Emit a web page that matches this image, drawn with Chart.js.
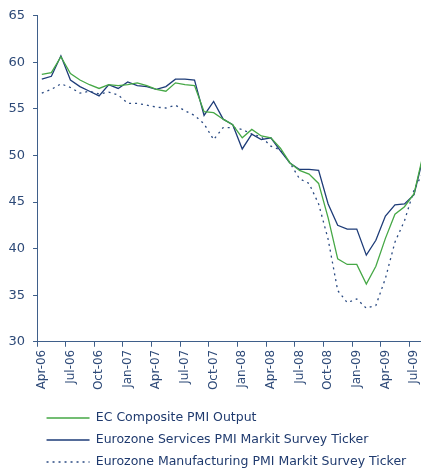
<!DOCTYPE html>
<html>
<head>
<meta charset="utf-8">
<script src="https://cdn.jsdelivr.net/npm/chart.js@4/dist/chart.umd.min.js"></script>
<style>
  html, body { margin: 0; padding: 0; background: #fff; overflow: hidden; }
  canvas { display: block; }
</style>
</head>
<body>
<canvas id="pmiChart" width="441" height="471"></canvas>
<script>
const months = [
  'Apr-06', 'May-06', 'Jun-06', 'Jul-06', 'Aug-06', 'Sep-06', 'Oct-06', 'Nov-06', 'Dec-06',
  'Jan-07', 'Feb-07', 'Mar-07', 'Apr-07', 'May-07', 'Jun-07', 'Jul-07', 'Aug-07', 'Sep-07', 'Oct-07', 'Nov-07', 'Dec-07',
  'Jan-08', 'Feb-08', 'Mar-08', 'Apr-08', 'May-08', 'Jun-08', 'Jul-08', 'Aug-08', 'Sep-08', 'Oct-08', 'Nov-08', 'Dec-08',
  'Jan-09', 'Feb-09', 'Mar-09', 'Apr-09', 'May-09', 'Jun-09', 'Jul-09', 'Aug-09'
];

const compositeOutput = [
  58.7, 58.9, 60.6, 58.8, 58.1, 57.6, 57.2, 57.6, 57.5,
  57.6, 57.8, 57.5, 57.1, 56.9, 57.8, 57.6, 57.5, 54.7, 54.6, 53.9, 53.3,
  51.9, 52.8, 52.1, 51.9, 50.8, 49.2, 48.4, 48.0, 47.0, 43.3, 38.9, 38.3,
  38.3, 36.2, 38.1, 41.1, 43.7, 44.5, 45.9, 50.3
];

const servicesPmi = [
  58.2, 58.5, 60.7, 58.1, 57.4, 56.9, 56.4, 57.6, 57.2,
  57.9, 57.5, 57.4, 57.1, 57.4, 58.2, 58.2, 58.1, 54.3, 55.8, 53.9, 53.3,
  50.7, 52.3, 51.7, 51.9, 50.5, 49.2, 48.5, 48.5, 48.4, 44.8, 42.5, 42.1,
  42.1, 39.3, 40.9, 43.5, 44.7, 44.8, 45.8, 50.0
];

const manufacturingPmi = [
  56.7, 57.1, 57.7, 57.3, 56.7, 56.9, 56.6, 56.8, 56.5,
  55.6, 55.6, 55.4, 55.2, 55.1, 55.4, 54.8, 54.3, 53.4, 51.7, 53.0, 53.0,
  52.8, 52.3, 52.0, 51.0, 50.6, 49.2, 47.5, 47.0, 44.8, 41.0, 35.5, 34.2,
  34.6, 33.6, 33.9, 36.8, 40.7, 43.0, 46.3, 48.3
];

const seriesNames = [
  'EC Composite PMI Output',
  'Eurozone Services PMI Markit Survey Ticker',
  'Eurozone Manufacturing PMI Markit Survey Ticker'
];

const axisColor = '#3f5f8a';
const textColor = '#2e4a78';
const legendColor = '#1f3a6e';

function lineSet(label, data, color, dash) {
  return {
    label: label,
    data: data,
    borderColor: color,
    backgroundColor: color,
    borderWidth: 1.3,
    borderDash: dash,
    pointRadius: 0,
    tension: 0,
    fill: false
  };
}

function createPmiChart(ctx) {
  return new Chart(ctx, {
    type: 'line',
    data: {
      labels: months,
      datasets: [
        lineSet(seriesNames[0], compositeOutput, '#46a846', []),
        lineSet(seriesNames[1], servicesPmi, '#1e3c78', []),
        lineSet(seriesNames[2], manufacturingPmi, '#2a4a82', [2, 4])
      ]
    },
    options: {
      responsive: false,
      animation: false,
      layout: { padding: { top: 5, right: 1, left: 0.5, bottom: -7.25 } },
      scales: {
        x: {
          offset: true,
          grid: {
            offset: true,
            drawOnChartArea: false,
            tickLength: 5,
            color: c => (c.index % 3 === 0 ? axisColor : 'rgba(0,0,0,0)')
          },
          border: { display: true, color: axisColor, width: 1 },
          ticks: {
            autoSkip: false,
            minRotation: 90,
            maxRotation: 90,
            padding: 3,
            color: textColor,
            font: { family: 'DejaVu Sans', size: 12 },
            callback: (v, i) => (i % 3 === 0 ? months[i] : '')
          },
          afterFit: scale => { scale.height = 60.5; }
        },
        y: {
          min: 30,
          max: 65,
          ticks: {
            stepSize: 5,
            padding: 8,
            color: textColor,
            font: { family: 'DejaVu Sans', size: 13 }
          },
          grid: { drawOnChartArea: false, tickLength: 4, color: axisColor },
          border: { display: true, color: axisColor, width: 1 }
        }
      },
      plugins: {
        legend: {
          position: 'bottom',
          align: 'start',
          fullSize: false,
          labels: {
            boxWidth: 43,
            boxHeight: 0,
            padding: 9.5,
            color: legendColor,
            font: { family: 'DejaVu Sans', size: 12.5 }
          }
        },
        tooltip: { enabled: false }
      }
    }
  });
}

createPmiChart(document.getElementById('pmiChart').getContext('2d'));
</script>
</body>
</html>
